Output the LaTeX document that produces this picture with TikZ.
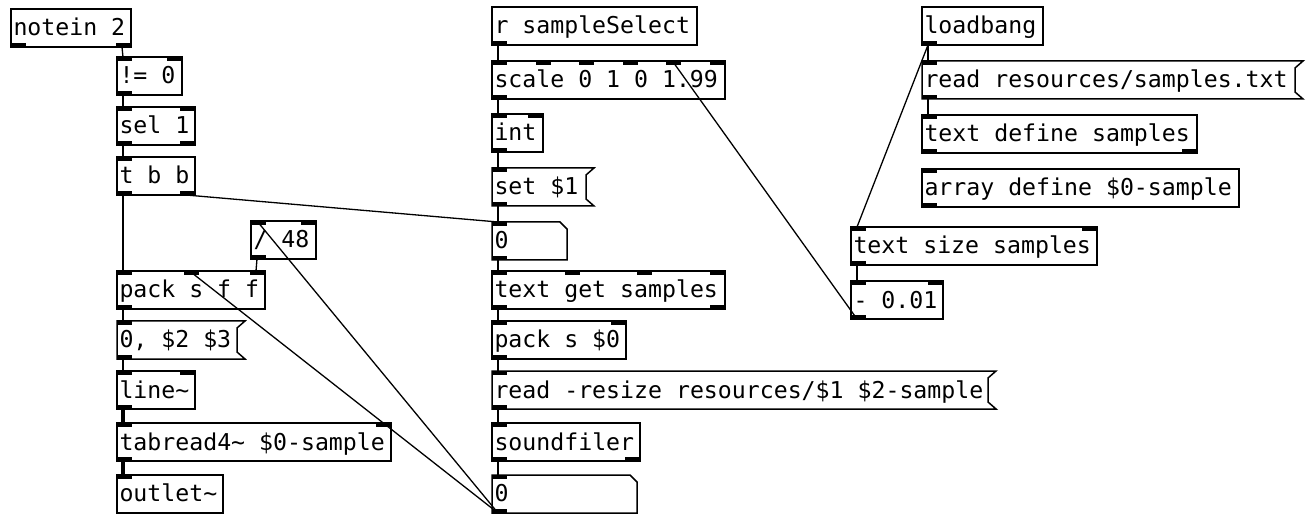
\documentclass[tikz,border=0pt]{standalone}
\usepackage{fontspec}
\newfontfamily\pdfont{DejaVu Sans Mono}
\usetikzlibrary{calc}

% font of the patch, with spaces as wide as the letters
\newcommand\pdtext{\pdfont\fontsize{11.6}{13}\selectfont
  \spaceskip=6.98pt\relax\xspaceskip=6.98pt\relax}

% inlets and outlets of a box, evenly spread
\newcommand\pdio[4]{%
  \ifnum#3>0
    \foreach \k in {1,...,#3}{
      \pgfmathsetmacro\dx{(\k-1)*(#2-15)/max(#3-1,1)}
      \fill ($(#1.north west)+(\dx,0)$) rectangle +(15,4);
      \coordinate (#1-i\k) at ($(#1.north west)+(\dx+6,0)$);
    }
  \fi
  \ifnum#4>0
    \foreach \k in {1,...,#4}{
      \pgfmathsetmacro\dx{(\k-1)*(#2-15)/max(#4-1,1)}
      \fill ($(#1.south west)+(\dx,0)$) rectangle +(15,-4);
      \coordinate (#1-o\k) at ($(#1.south west)+(\dx+6,0)$);
    }
  \fi
}
% style, name, x, y, width, inlets, outlets, text
\newcommand\pdnode[8]{%
  \pgfmathsetlengthmacro\pdtw{#5*0.5pt-2.5pt}
  \node[#1, text width=\pdtw] (#2) at (#3,#4) {\pdtext\mbox{#8}};
  \pdio{#2}{#5}{#6}{#7}
}
\newcommand\pdobj{\pdnode{pdobj}}
\newcommand\pdmsg[5]{%
  \pdnode{pdbox}{#1}{#2}{#3}{#4}{1}{1}{#5}
  \draw[pdline] (#1.north west) -- ($(#1.north east)+(8,0)$) -- ($(#1.north east)+(0,7)$)
    -- ($(#1.south east)+(0,-7)$) -- ($(#1.south east)+(8,0)$) -- (#1.south west) -- cycle;
}
\newcommand\pdatom[5]{%
  \pdnode{pdbox}{#1}{#2}{#3}{#4}{1}{1}{#5}
  \draw[pdline] (#1.north west) -- ($(#1.north east)+(-7,0)$) -- ($(#1.north east)+(0,7)$)
    -- (#1.south east) -- (#1.south west) -- cycle;
}

\begin{document}
\begin{tikzpicture}[x=0.5pt,y=-0.5pt,
  pdline/.style={line width=0.75pt},
  pdbox/.style={anchor=north west, outer sep=0pt, inner xsep=1.25pt, inner ysep=0pt,
    minimum height=19pt, text height=9.5pt, text depth=1.5pt, align=left,
    font=\pdtext},
  pdobj/.style={pdbox, draw, pdline},
  wire/.style={line width=0.65pt},
  sigwire/.style={line width=1.8pt}]
\useasboundingbox (0,0) rectangle (1314,524);

% left column
\pdobj{notein}{11}{9}{120}{0}{2}{notein 2}
\pdobj{neq}{117}{57}{65}{2}{1}{!= 0}
\pdobj{sel}{117}{107}{78}{2}{2}{sel 1}
\pdobj{tbb}{117}{157}{78}{1}{2}{t b b}
\pdobj{div}{251}{221}{65}{2}{1}{/ 48}
\pdobj{packsff}{117}{271}{148}{3}{1}{pack s f f}
\pdmsg{env}{117}{321}{120}{0, \$2 \$3}
\pdobj{linesig}{117}{371}{78}{2}{1}{line\textasciitilde}
\pdobj{tabread}{117}{423}{274}{2}{1}{tabread4\textasciitilde{} \$0-sample}
\pdobj{outsig}{117}{475}{106}{1}{0}{outlet\textasciitilde}

% middle column
\pdobj{rsel}{492}{7}{205}{0}{1}{r sampleSelect}
\pdobj{scale}{492}{61}{233}{6}{1}{scale 0 1 0 1.99}
\pdobj{int}{492}{114}{51}{2}{1}{int}
\pdmsg{setmsg}{492}{168}{94}{set \$1}
\pdatom{numA}{492}{222}{75}{0}
\pdobj{textget}{492}{271}{233}{4}{2}{text get samples}
\pdobj{packs}{492}{321}{134}{2}{1}{pack s \$0}
\pdmsg{readmsg}{492}{371}{496}{read -resize resources/\$1 \$2-sample}
\pdobj{sfiler}{492}{423}{148}{1}{2}{soundfiler}
\pdatom{numB}{492}{475}{145}{0}

% right column
\pdobj{loadbang}{922}{7}{121}{0}{1}{loadbang}
\pdmsg{readtxt}{922}{61}{373}{read resources/samples.txt}
\pdobj{textdef}{922}{115}{275}{1}{2}{text define samples}
\pdobj{arraydef}{922}{169}{317}{1}{1}{array define \$0-sample}
\pdobj{textsize}{851}{227}{246}{2}{1}{text size samples}
\pdobj{minus}{851}{281}{92}{2}{1}{- 0.01}

% connections
\draw[wire] (notein-o2) -- (neq-i1);
\draw[wire] (neq-o1) -- (sel-i1);
\draw[wire] (sel-o1) -- (tbb-i1);
\draw[wire] (tbb-o1) -- (packsff-i1);
\draw[wire] (tbb-o2) -- (numA-i1);
\draw[wire] (div-o1) -- (packsff-i3);
\draw[wire] (numB-o1) -- (div-i1);
\draw[wire] (numB-o1) -- (packsff-i2);
\draw[wire] (packsff-o1) -- (env-i1);
\draw[wire] (env-o1) -- (linesig-i1);
\draw[sigwire] (linesig-o1) -- (tabread-i1);
\draw[sigwire] (tabread-o1) -- (outsig-i1);
\draw[wire] (rsel-o1) -- (scale-i1);
\draw[wire] (scale-o1) -- (int-i1);
\draw[wire] (int-o1) -- (setmsg-i1);
\draw[wire] (setmsg-o1) -- (numA-i1);
\draw[wire] (numA-o1) -- (textget-i1);
\draw[wire] (textget-o1) -- (packs-i1);
\draw[wire] (packs-o1) -- (readmsg-i1);
\draw[wire] (readmsg-o1) -- (sfiler-i1);
\draw[wire] (sfiler-o1) -- (numB-i1);
\draw[wire] (minus-o1) -- (scale-i5);
\draw[wire] (loadbang-o1) -- (readtxt-i1);
\draw[wire] (loadbang-o1) -- (textsize-i1);
\draw[wire] (readtxt-o1) -- (textdef-i1);
\draw[wire] (textsize-o1) -- (minus-i1);
\end{tikzpicture}
\end{document}
